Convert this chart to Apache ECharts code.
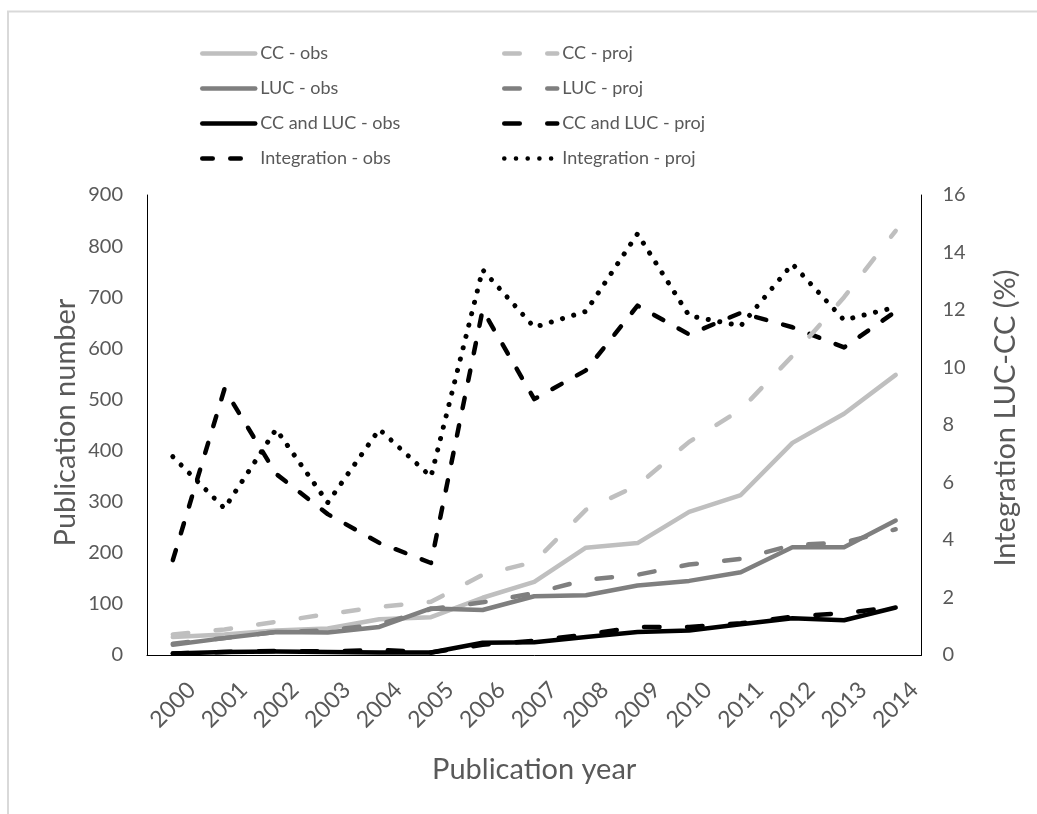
<!DOCTYPE html>
<html><head><meta charset="utf-8">
<script src="https://cdn.jsdelivr.net/npm/echarts@6/dist/echarts.min.js"></script>
<style>html,body{margin:0;padding:0;background:#fff}#c{width:1037px;height:814px}</style>
</head><body><div id="c"></div>
<script>
const years = ['2000','2001','2002','2003','2004','2005','2006','2007','2008','2009','2010','2011','2012','2013','2014'];
const leftTicks = [0,100,200,300,400,500,600,700,800,900];
const rightTicks = [0,2,4,6,8,10,12,14,16];

const ccObs      = [35, 40, 48, 52, 70, 74, 112, 143, 210, 219, 280, 313, 415, 472, 548];
const ccProj     = [40, 50, 65, 80, 94, 104, 157, 182, 284, 332, 417, 480, 585, 700, 830];
const lucObs     = [20, 33, 45, 44, 55, 91, 88, 115, 117, 136, 145, 162, 211, 211, 263];
const lucProj    = [22, 33, 45, 48, 60, 90, 103, 121, 147, 157, 177, 188, 215, 220, 246];
const cclucObs   = [3, 6, 7, 6, 5, 5, 24, 25, 35, 45, 48, 60, 72, 68, 93];
const cclucProj  = [3, 6, 8, 7, 10, 5, 20, 28, 40, 55, 55, 62, 75, 82, 94];
const integObs   = [3.3, 9.25, 6.3, 4.9, 3.9, 3.2, 12.0, 8.9, 9.9, 12.15, 11.15, 11.9, 11.4, 10.7, 11.95];
const integProj  = [6.9, 5.1, 7.85, 5.3, 7.85, 6.2, 13.4, 11.4, 11.95, 14.65, 11.8, 11.45, 13.6, 11.65, 12.1];

const xTitle = 'Publication year';
const yLeftTitle = 'Publication number';
const yRightTitle = 'Integration LUC-CC (%)';

const FONT = 'Lato';
const TXT = '#595959';
const LIGHT = '#bfbfbf', MID = '#7f7f7f', BLACK = '#000000';
const LONGDASH = [15.5, 27.5];

function line(name, data, color, type, yIndex, width) {
  return {
    name, type: 'line', data, yAxisIndex: yIndex,
    symbol: 'none', silent: true,
    lineStyle: { color, width: width || 4.5, type, cap: 'round', join: 'round' },
    itemStyle: { color },
    emphasis: { disabled: true }
  };
}

const legendCommon = {
  orient: 'vertical', top: 43.5, padding: 0, itemWidth: 53, itemHeight: 14, itemGap: 15,
  textStyle: { color: TXT, fontSize: 18, fontFamily: FONT, lineHeight: 20 },
  itemStyle: { opacity: 0 },
  lineStyle: { width: 4.5 },
  selectedMode: false
};

const chart = echarts.init(document.getElementById('c'), null, { renderer: 'canvas' });
chart.setOption({
  animation: false,
  backgroundColor: '#ffffff',
  textStyle: { fontFamily: FONT },
  graphic: [
    { type: 'polyline', shape: { points: [[8, 830], [8, 11.5], [1045, 11.5]] },
      style: { stroke: '#d9d9d9', lineWidth: 2, fill: null }, silent: true },
    { type: 'text', x: 66, y: 422.5, rotation: Math.PI / 2, silent: true,
      style: { text: yLeftTitle, fill: TXT, font: '29px Lato', align: 'center', verticalAlign: 'middle' } },
    { type: 'text', x: 1006, y: 418, rotation: Math.PI / 2, silent: true,
      style: { text: yRightTitle, fill: TXT, font: '29px Lato', align: 'center', verticalAlign: 'middle' } }
  ],
  legend: [
    Object.assign({}, legendCommon, { left: 200, data: ['CC - obs', 'LUC - obs', 'CC and LUC - obs', 'Integration - obs'] }),
    Object.assign({}, legendCommon, { left: 502, data: ['CC - proj', 'LUC - proj', 'CC and LUC - proj', 'Integration - proj'] })
  ],
  grid: { left: 147, right: 115.5, top: 195, bottom: 159, containLabel: false },
  xAxis: {
    type: 'category', data: years, boundaryGap: true,
    name: xTitle, nameLocation: 'middle', nameGap: 100, nameMoveOverlap: false,
    nameTextStyle: { color: TXT, fontSize: 29, fontFamily: FONT },
    axisLine: { lineStyle: { color: '#000', width: 1 } },
    axisTick: { show: false },
    axisLabel: { rotate: 45, align: 'center', verticalAlign: 'middle', color: TXT, fontSize: 23, fontFamily: FONT, margin: 50, interval: 0 },
    splitLine: { show: false }
  },
  yAxis: [
    {
      type: 'value', min: leftTicks[0], max: leftTicks[leftTicks.length - 1], interval: 100,
      axisLine: { show: true, lineStyle: { color: '#000', width: 1 } },
      axisTick: { show: false },
      axisLabel: { color: TXT, fontSize: 20, fontFamily: FONT, margin: 24 },
      splitLine: { show: false }
    },
    {
      type: 'value', min: rightTicks[0], max: rightTicks[rightTicks.length - 1], interval: 2,
      position: 'right',
      axisLine: { show: true, lineStyle: { color: '#000', width: 1 } },
      axisTick: { show: false },
      axisLabel: { color: TXT, fontSize: 20, fontFamily: FONT, margin: 21 },
      splitLine: { show: false }
    }
  ],
  series: [
    line('CC - obs', ccObs, LIGHT, 'solid', 0),
    line('LUC - obs', lucObs, MID, 'solid', 0),
    line('CC and LUC - obs', cclucObs, BLACK, 'solid', 0),
    line('Integration - obs', integObs, BLACK, [10.5, 17.5], 1),
    line('CC - proj', ccProj, LIGHT, LONGDASH, 0),
    line('LUC - proj', lucProj, MID, LONGDASH, 0),
    line('CC and LUC - proj', cclucProj, BLACK, LONGDASH, 0),
    line('Integration - proj', integProj, BLACK, [0.1, 11.6], 1, 5)
  ]
});
</script>
</body></html>
